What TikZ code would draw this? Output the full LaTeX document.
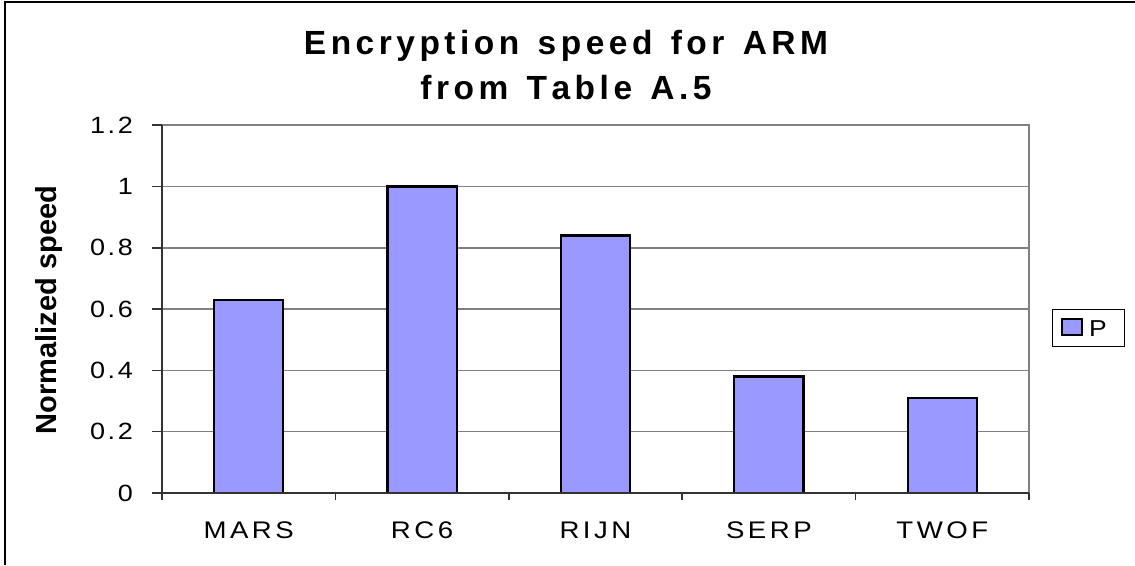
\documentclass[tikz,border=0pt]{standalone}
\usepackage{fontspec}
\setmainfont{Liberation Sans}
\newfontfamily\widefont[FakeStretch=1.15]{Liberation Sans}
\definecolor{barfill}{HTML}{9999FF}
\definecolor{gridgray}{HTML}{808080}
% letter-spaced text: a fixed kern after every character
\ExplSyntaxOn
\cs_new_protected:Npn \chart_tracked:nn #1 #2
  { \str_map_inline:nn {#2} { ##1 \kern #1 \relax } \unkern }
\cs_generate_variant:Nn \chart_tracked:nn { nx }
\NewDocumentCommand \tracked { m m } { \chart_tracked:nx {#1} {#2} }
\ExplSyntaxOff
\tikzset{
  frameline/.style={line width=2.2pt,black},
  gridline/.style={line width=1.5pt,gridgray},
  axisline/.style={line width=1.5pt,black!80},
  barbox/.style={line width=2.2pt,draw=black,fill=barfill},
  titletext/.style={inner sep=0pt,anchor=base,font=\bfseries\fontsize{33.5}{40}\selectfont},
  ticklabel/.style={inner sep=0pt,anchor=east,font=\widefont\fontsize{23.5}{28}\selectfont},
  catlabel/.style={inner sep=0pt,anchor=base,font=\widefont\fontsize{24}{28}\selectfont},
}
\begin{document}
\begin{tikzpicture}[x=1pt,y=-1pt]
\useasboundingbox (0,0) rectangle (1135,565);
\fill[white] (0,0) rectangle (1135,565);

% outer chart frame (top and left edges)
\draw[frameline] (5,565) -- (5,2) -- (1135,2);

% title
\node[titletext] (title1) at (566,54) {\tracked{4.5pt}{Encryption speed for ARM}};
\node[titletext] (title2) at (566,99) {\tracked{4.5pt}{from Table A.5}};

% axis title
\node[inner sep=0pt,anchor=base,rotate=90,font=\bfseries\fontsize{29}{34}\selectfont]
  (ytitle) at (56,310) {Normalized speed};

% plot area: 5 categories, value axis 0..1.2
\begin{scope}[shift={(162,493)},x=173.4pt,y=306.5pt]
  % horizontal gridlines
  \foreach \v in {0.2,0.4,...,1.0}
    \draw[gridline] (0,\v) -- (5,\v);
  \draw[gridline] (0,1.2) -- (5,1.2) -- (5,0);
  % bars
  \foreach \i/\v in {0/0.63,1/1.0,2/0.84,3/0.38,4/0.31}
    \draw[barbox] (\i+0.3,0) rectangle (\i+0.7,\v);
  % axes
  \draw[axisline] (0,1.2) -- (0,0) -- (5,0);
  % value ticks and labels
  \foreach \v/\t in {0/0,0.2/0.2,0.4/0.4,0.6/0.6,0.8/0.8,1.0/1,1.2/1.2}{
    \draw[axisline] (-10pt,\v) -- (0,\v);
    \node[ticklabel] (tick-\t) at ([xshift=-29pt]0,\v) {\tracked{2.5pt}{\t}};
  }
  % category ticks and labels
  \foreach \i in {0,...,5}
    \draw[axisline] (\i,0) -- ([yshift=-7pt]\i,0);
  \foreach \i/\c in {0/MARS,1/RC6,2/RIJN,3/SERP,4/TWOF}
    \node[catlabel] (cat-\c) at ([yshift=-45pt]\i+0.5,0) {\tracked{3.5pt}{\c}};
\end{scope}

% legend
\draw[line width=1pt,black] (1052,309) rectangle (1124,346);
\node[inner sep=0pt,anchor=base west,font=\widefont\fontsize{23}{27}\selectfont] (legP) at (1089,336) {P};
\draw[line width=1.8pt,draw=black,fill=barfill] (1062,319) rectangle (1082,335);
\end{tikzpicture}
\end{document}
